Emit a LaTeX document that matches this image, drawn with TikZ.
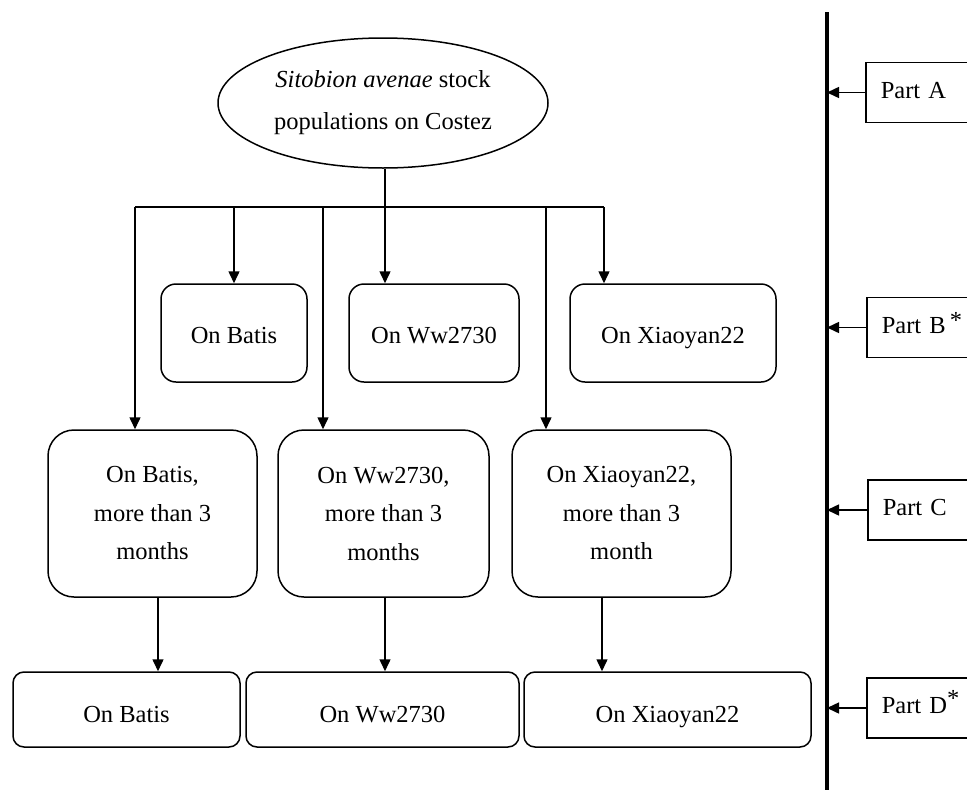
\documentclass[tikz,border=0pt]{standalone}
\usepackage{fontspec}
\setmainfont{Liberation Serif}
\usetikzlibrary{arrows.meta,shapes.geometric}
\begin{document}
\begin{tikzpicture}[x=1pt,y=-1pt,
  lw/.style={line width=1.5pt},
  arr/.style={lw,-{Triangle[length=12pt,width=11pt]}},
  txt/.style={font=\fontsize{24.5}{38.5}\selectfont,align=center,inner sep=0pt},
  oneline/.style={text height=16pt,text depth=5pt},
  boxa/.style={txt,text height=20pt,text depth=0pt,draw,lw,rounded corners=15pt,minimum height=98pt},
  boxb/.style={txt,draw,lw,rounded corners=26pt,minimum height=167pt},
  boxc/.style={txt,text height=25pt,text depth=0pt,draw,lw,rounded corners=11pt,minimum height=75pt},
  partbox/.style={draw,lw,anchor=west,font=\fontsize{24.5}{30}\selectfont,oneline,
    text width=130pt,align=left,inner xsep=15pt,inner ysep=0pt,minimum height=60pt}
]
\clip (0,0) rectangle (967,790);
\fill[white] (0,0) rectangle (967,790);

% top ellipse
\node[ellipse,draw,lw,minimum width=330pt,minimum height=130pt,inner sep=0pt,
  font=\fontsize{24.5}{42}\selectfont,align=center] (e) at (383,103)
  {\textit{Sitobion avenae} stock\\populations on Costez};

% row 2
\node[boxa,minimum width=146pt] (b1) at (234,333) {On Batis};
\node[boxa,minimum width=170pt] (b2) at (434,333) {On Ww2730};
\node[boxa,minimum width=206pt] (b3) at (673,333) {On Xiaoyan22};

% row 3
\node[boxb,minimum width=209pt] (c1) at (152.5,513.5) {On Batis,\\more than 3\\months};
\node[boxb,minimum width=211pt] (c2) at (383.5,513.5) {On Ww2730,\\more than 3\\months};
\node[boxb,minimum width=219pt] (c3) at (621.5,513.5) {On Xiaoyan22,\\more than 3\\month};

% bottom row
\node[boxc,minimum width=227pt] (d1) at (126.5,709.5) {On Batis};
\node[boxc,minimum width=273pt] (d2) at (382.5,709.5) {On Ww2730};
\node[boxc,minimum width=287pt] (d3) at (667.5,709.5) {On Xiaoyan22};

% branching connectors
\coordinate (hL) at (135,207);
\coordinate (hR) at (604,207);
\coordinate (s) at (385,207);
\coordinate (h2) at (234,207);
\coordinate (h3) at (323,207);
\coordinate (h5) at (546,207);
\draw[lw] (e.south -| s) -- (s);
\draw[lw] (hL) -- (hR);
\draw[arr] (hL) -- (hL |- c1.north);
\draw[arr] (h2) -- (h2 |- b1.north);
\draw[arr] (h3) -- (h3 |- c2.north);
\draw[arr] (s) -- (s |- b2.north);
\draw[arr] (h5) -- (h5 |- c3.north);
\draw[arr] (hR) -- (hR |- b3.north);

\coordinate (v1) at (158,597);
\coordinate (v2) at (385,597);
\coordinate (v3) at (602,597);
\draw[arr] (v1) -- (v1 |- d1.north);
\draw[arr] (v2) -- (v2 |- d2.north);
\draw[arr] (v3) -- (v3 |- d3.north);

% right side
\coordinate (vtop) at (827,12);
\coordinate (vbot) at (827,800);
\draw[line width=3.2pt] (vtop) -- (vbot);

\node[partbox] (pA) at (865,92.5) {Part A};
\node[partbox] (pB) at (866,327.5) {Part B\,\raisebox{5pt}{*}};
\node[partbox] (pC) at (867,510) {Part C};
\node[partbox] (pD) at (866,708) {Part D\raisebox{7pt}{*}};

\draw[arr] (pA.west) -- (pA.west -| vtop);
\draw[arr] (pB.west) -- (pB.west -| vtop);
\draw[arr] (pC.west) -- (pC.west -| vtop);
\draw[arr] (pD.west) -- (pD.west -| vtop);
\end{tikzpicture}
\end{document}
